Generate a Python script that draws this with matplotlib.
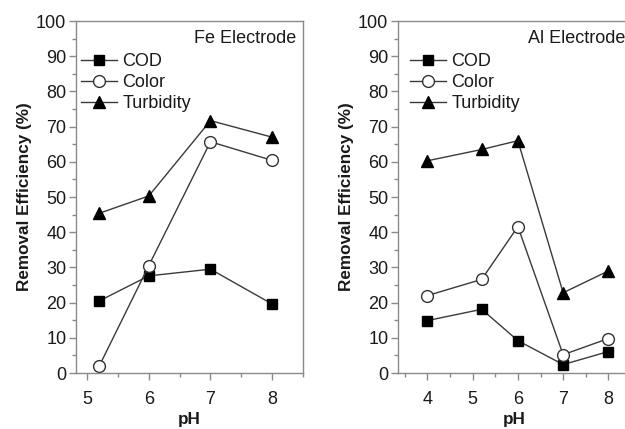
import matplotlib.pyplot as plt
from matplotlib.ticker import MultipleLocator

plt.rcParams['font.family'] = ['Liberation Sans', 'DejaVu Sans']

# Fe electrode data
ph_fe = [5.2, 6, 7, 8]
cod_fe = [20.5, 27.6, 29.5, 19.6]
color_fe = [2.1, 30.5, 65.7, 60.4]
turb_fe = [45.4, 50.3, 71.7, 67.0]

# Al electrode data
ph_al = [4, 5.2, 6, 7, 8]
cod_al = [14.9, 18.1, 9.2, 2.4, 6.1]
color_al = [22.0, 26.6, 41.6, 5.2, 9.8]
turb_al = [60.3, 63.5, 66.0, 22.8, 29.0]

xticks_fe = [5, 6, 7, 8]
xticks_al = [4, 5, 6, 7, 8]

fig = plt.figure(figsize=(6.25, 4.29), dpi=100)
ax1 = fig.add_axes([0.1216, 0.1305, 0.3632, 0.8205])
ax2 = fig.add_axes([0.6368, 0.1305, 0.3728, 0.8205])

line_c = '#3a3a3a'
spine_c = '#8a8a8a'
text_c = '#1a1a1a'


def draw(ax, x, cod, color, turb, xticks, xlim, title, title_x, leg_x):
    ax.plot(x, cod, '-s', color=line_c, lw=1, ms=7.5, mfc='black', mec='black', label='COD')
    ax.plot(x, color, '-o', color=line_c, lw=1, ms=8.5, mfc='white', mec='#333333', mew=1, label='Color')
    ax.plot(x, turb, '-^', color=line_c, lw=1, ms=9, mfc='black', mec='black', label='Turbidity')
    ax.set_xlim(*xlim)
    ax.set_ylim(0, 100)
    ax.set_xticks(xticks)
    ax.xaxis.set_minor_locator(MultipleLocator(0.5))
    ax.set_yticks(range(0, 101, 10))
    ax.yaxis.set_minor_locator(MultipleLocator(5))
    ax.tick_params(which='both', direction='out', color=spine_c, labelcolor=text_c, labelsize=13)
    ax.tick_params(which='major', length=5, width=1, pad=2)
    ax.tick_params(which='minor', length=3, width=1)
    ax.tick_params(axis='x', which='major', pad=8)
    for s in ax.spines.values():
        s.set_color(spine_c)
        s.set_linewidth(1)
    ax.set_xlabel('pH', fontsize=12.3, fontweight='bold', color=text_c, labelpad=3)
    ax.set_ylabel('Removal Efficiency (%)', fontsize=12.3, fontweight='bold', color=text_c, labelpad=3)
    ax.text(title_x, 0.975, title, transform=ax.transAxes, ha='left', va='top', fontsize=13, color=text_c)
    ax.legend(loc='upper left', bbox_to_anchor=(leg_x, 0.908), frameon=False, fontsize=13,
              handlelength=2.0, handletextpad=0.3, labelspacing=0.22, borderaxespad=0,
              borderpad=0, labelcolor=text_c)


draw(ax1, ph_fe, cod_fe, color_fe, turb_fe, xticks_fe, (4.82, 8.5), 'Fe Electrode', 0.52, 0.022)
draw(ax2, ph_al, cod_al, color_al, turb_al, xticks_al, (3.35, 8.5), 'Al Electrode', 0.558, 0.05)

fig.savefig('out.png', dpi=100)
